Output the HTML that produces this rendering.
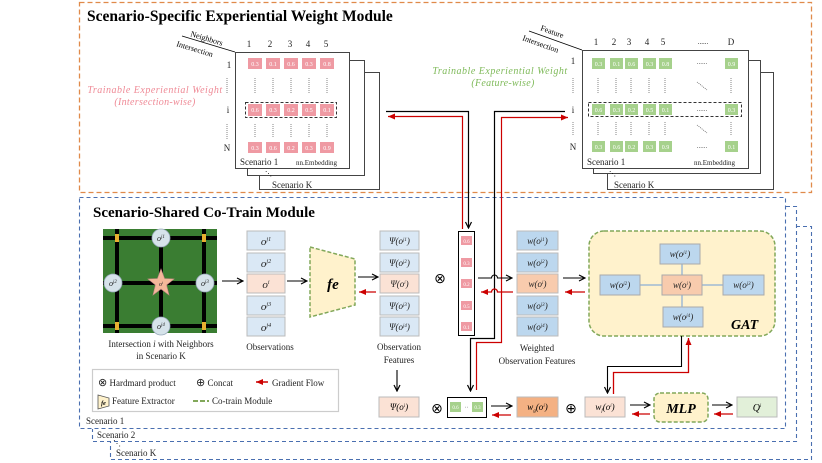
<!DOCTYPE html>
<html><head><meta charset="utf-8"><style>
html,body{margin:0;padding:0;background:#fff}
svg{display:block;font-family:"Liberation Serif",serif}
.c{font-size:6px;fill:#fff;text-anchor:middle}
.l{font-size:9px;fill:#222}
</style></head><body>
<svg width="822" height="463" viewBox="0 0 822 463" xmlns="http://www.w3.org/2000/svg">
<defs>
<marker id="ab" markerWidth="8" markerHeight="8" refX="7" refY="4" orient="auto" markerUnits="userSpaceOnUse"><path d="M1,1 L7,4 L1,7" fill="none" stroke="#000" stroke-width="1.2"/></marker>
<marker id="ar" markerWidth="8" markerHeight="8" refX="7" refY="4" orient="auto" markerUnits="userSpaceOnUse"><path d="M0,1 L7,4 L0,7z" fill="#c00"/></marker>
</defs>

<rect x="79.5" y="2.5" width="732" height="190" fill="none" stroke="#e08a4a" stroke-width="1.3" stroke-dasharray="5,3"/>
<text x="87" y="21" font-size="15.5" font-weight="bold" fill="#000">Scenario-Specific Experiential Weight Module</text>

<rect x="79.5" y="197.5" width="706" height="231" fill="none" stroke="#4a6fb0" stroke-width="1.1" stroke-dasharray="4,3"/>
<path d="M786,206.5 H796.5 V441.5 H92.5 V429" fill="none" stroke="#4a6fb0" stroke-width="1.1" stroke-dasharray="4,3"/>
<path d="M796,226.5 H811.5 V459.5 H110.5 V442" fill="none" stroke="#4a6fb0" stroke-width="1.1" stroke-dasharray="4,3"/>
<text x="86" y="424" font-size="9" fill="#222">Scenario 1</text>
<text x="97" y="438" font-size="9" fill="#222">Scenario 2</text>
<text x="116" y="456" font-size="9" fill="#222">Scenario K</text>
<text x="113" y="446" font-size="8" fill="#222">⋱</text>
<text x="93" y="217" font-size="15" font-weight="bold" fill="#000">Scenario-Shared Co-Train Module</text>

<!-- LEFT MATRIX -->
<rect x="259.5" y="72.5" width="120" height="117" fill="#fff" stroke="#444"/>
<rect x="247.5" y="60.5" width="117" height="115" fill="#fff" stroke="#444"/>
<rect x="235.5" y="52.5" width="114" height="116" fill="#fff" stroke="#444"/>
<text x="272" y="188" class="l">Scenario K</text>
<text x="265" y="176" font-size="7">⋱</text>
<text x="240" y="165" class="l">Scenario 1</text>
<text x="296" y="165" font-size="7" fill="#222">nn.Embedding</text>
<line x1="182" y1="36" x2="235" y2="52" stroke="#000" stroke-width="0.8"/>
<text x="190" y="36" font-size="8" transform="rotate(17 190 36)">Neighbors</text>
<text x="176" y="46" font-size="8" transform="rotate(17 176 46)">Intersection</text>
<g font-size="9" fill="#222" text-anchor="middle">
<text x="249" y="47">1</text><text x="270" y="47">2</text><text x="290" y="47">3</text><text x="308" y="47">4</text><text x="326" y="47">5</text>
<text x="229" y="68">1</text><text x="228" y="113">i</text><text x="227" y="151">N</text>
</g>
<g fill="#ef9aa3">
<rect x="248" y="58" width="14" height="11"/><rect x="266" y="58" width="14" height="11"/><rect x="284" y="58" width="14" height="11"/><rect x="302" y="58" width="14" height="11"/><rect x="320" y="58" width="14" height="11"/>
<rect x="248" y="104" width="14" height="12"/><rect x="266" y="104" width="14" height="12"/><rect x="284" y="104" width="14" height="12"/><rect x="302" y="104" width="14" height="12"/><rect x="320" y="104" width="14" height="12"/>
<rect x="248" y="142" width="14" height="11"/><rect x="266" y="142" width="14" height="11"/><rect x="284" y="142" width="14" height="11"/><rect x="302" y="142" width="14" height="11"/><rect x="320" y="142" width="14" height="11"/>
</g>
<g>
<text x="255" y="66" class="c">0.3</text><text x="273" y="66" class="c">0.1</text><text x="291" y="66" class="c">0.6</text><text x="309" y="66" class="c">0.3</text><text x="327" y="66" class="c">0.8</text>
<text x="255" y="112" class="c">0.6</text><text x="273" y="112" class="c">0.3</text><text x="291" y="112" class="c">0.2</text><text x="309" y="112" class="c">0.5</text><text x="327" y="112" class="c">0.1</text>
<text x="255" y="150" class="c">0.3</text><text x="273" y="150" class="c">0.6</text><text x="291" y="150" class="c">0.2</text><text x="309" y="150" class="c">0.3</text><text x="327" y="150" class="c">0.9</text>
</g>
<rect x="245.5" y="102.5" width="91" height="15" fill="none" stroke="#333" stroke-dasharray="3,2"/>
<g stroke="#666" stroke-width="0.8" stroke-dasharray="1,1">
<path d="M227,78V94M255,78V94M273,78V94M291,78V94M309,78V94M327,78V94M227,124V140M255,124V138M273,124V138M291,124V138M309,124V138M327,124V138"/>
</g>
<text x="155" y="93" font-size="10" letter-spacing="0.5" font-style="italic" fill="#ef8a96" text-anchor="middle">Trainable Experiential Weight</text>
<text x="155" y="105" font-size="10" letter-spacing="0.3" font-style="italic" fill="#ef8a96" text-anchor="middle">(Intersection-wise)</text>

<!-- RIGHT MATRIX -->
<rect x="607.5" y="72.5" width="166" height="117" fill="#fff" stroke="#444"/>
<rect x="593.5" y="60.5" width="167" height="113" fill="#fff" stroke="#444"/>
<rect x="582.5" y="50.5" width="166" height="118" fill="#fff" stroke="#444"/>
<text x="614" y="188" class="l">Scenario K</text>
<text x="609" y="176" font-size="7">⋱</text>
<text x="587" y="165" class="l">Scenario 1</text>
<text x="694" y="165" font-size="7" fill="#222">nn.Embedding</text>
<line x1="529" y1="31" x2="582" y2="50" stroke="#000" stroke-width="0.8"/>
<text x="540" y="30" font-size="8" transform="rotate(20 540 30)">Feature</text>
<text x="522" y="40" font-size="8" transform="rotate(20 522 40)">Intersection</text>
<g font-size="9" fill="#222" text-anchor="middle">
<text x="596" y="45">1</text><text x="614" y="45">2</text><text x="629" y="45">3</text><text x="647" y="45">4</text><text x="663" y="45">5</text><text x="703" y="44" font-size="7">......</text><text x="731" y="45">D</text>
<text x="573" y="64">1</text><text x="573" y="113">i</text><text x="573" y="150">N</text>
</g>
<g fill="#a6d18c">
<rect x="592" y="58" width="13" height="11"/><rect x="610" y="58" width="13" height="11"/><rect x="625" y="58" width="13" height="11"/><rect x="643" y="58" width="13" height="11"/><rect x="659" y="58" width="13" height="11"/><rect x="725" y="58" width="13" height="11"/>
<rect x="592" y="104" width="13" height="11"/><rect x="610" y="104" width="13" height="11"/><rect x="625" y="104" width="13" height="11"/><rect x="643" y="104" width="13" height="11"/><rect x="659" y="104" width="13" height="11"/><rect x="725" y="104" width="13" height="11"/>
<rect x="592" y="141" width="13" height="11"/><rect x="610" y="141" width="13" height="11"/><rect x="625" y="141" width="13" height="11"/><rect x="643" y="141" width="13" height="11"/><rect x="659" y="141" width="13" height="11"/><rect x="725" y="141" width="13" height="11"/>
</g>
<g>
<text x="598.5" y="66" class="c">0.3</text><text x="616.5" y="66" class="c">0.1</text><text x="631.5" y="66" class="c">0.6</text><text x="649.5" y="66" class="c">0.3</text><text x="665.5" y="66" class="c">0.8</text><text x="731.5" y="66" class="c">0.9</text>
<text x="598.5" y="112" class="c">0.6</text><text x="616.5" y="112" class="c">0.3</text><text x="631.5" y="112" class="c">0.2</text><text x="649.5" y="112" class="c">0.5</text><text x="665.5" y="112" class="c">0.1</text><text x="731.5" y="112" class="c">0.3</text>
<text x="598.5" y="149" class="c">0.3</text><text x="616.5" y="149" class="c">0.6</text><text x="631.5" y="149" class="c">0.2</text><text x="649.5" y="149" class="c">0.3</text><text x="665.5" y="149" class="c">0.9</text><text x="731.5" y="149" class="c">0.1</text>
</g>
<g font-size="7" fill="#555" text-anchor="middle"><text x="702" y="64">......</text><text x="702" y="111">......</text><text x="702" y="148">......</text></g>
<rect x="588.5" y="102.5" width="153" height="14" fill="none" stroke="#333" stroke-dasharray="3,2"/>
<g stroke="#666" stroke-width="0.8" stroke-dasharray="1,1">
<path d="M573,78V94M598,78V94M616,78V94M631,78V94M649,78V94M665,78V94M731,78V94M573,122V136M598,122V136M616,122V136M631,122V136M649,122V136M665,122V136M731,122V136M697,82L707,90M697,125L707,133"/>
</g>
<text x="500" y="74" font-size="10" letter-spacing="0.5" font-style="italic" fill="#7fba5a" text-anchor="middle">Trainable Experiential  Weight</text>
<text x="503" y="86" font-size="10" letter-spacing="0.3" font-style="italic" fill="#7fba5a" text-anchor="middle">(Feature-wise)</text>

<!-- connectors between modules -->
<path d="M386,111.5 H468.5 V228" fill="none" stroke="#000" stroke-width="1.2" marker-end="url(#ab)"/>
<path d="M462.5,229 V116.5 H388" fill="none" stroke="#c00" stroke-width="1.2" marker-end="url(#ar)"/>
<path d="M565,111.5 H494.5 V338.5 H470.5 V391" fill="none" stroke="#000" stroke-width="1.2" marker-end="url(#ab)"/>
<path d="M476.5,390 V342.5 H501.5 V117.5 H568" fill="none" stroke="#c00" stroke-width="1.2" marker-end="url(#ar)"/>

<!-- grid -->
<rect x="103" y="229" width="114" height="104" fill="#3a7d32"/>
<g stroke="#000" stroke-width="4">
<line x1="103" y1="238" x2="217" y2="238"/><line x1="103" y1="283" x2="217" y2="283"/><line x1="103" y1="326" x2="217" y2="326"/>
<line x1="117" y1="229" x2="117" y2="333"/><line x1="161" y1="229" x2="161" y2="333"/><line x1="204" y1="229" x2="204" y2="333"/>
</g>
<g fill="#e8b030"><rect x="115" y="234" width="4" height="8"/><rect x="202" y="234" width="4" height="8"/><rect x="115" y="322" width="4" height="8"/><rect x="202" y="322" width="4" height="8"/></g>
<g fill="#d6e3ea" stroke="#9ab" stroke-width="0.8">
<circle cx="161" cy="238" r="9"/><circle cx="113" cy="283" r="9"/><circle cx="205" cy="283" r="9"/><circle cx="161" cy="326" r="9"/>
</g>
<path d="M161,269 L164.5,278.5 L174,279 L166.5,285 L169,295 L161,289 L153,295 L155.5,285 L148,279 L157.5,278.5z" fill="#f4b89a" stroke="#c88" stroke-width="0.6"/>
<g font-size="8" font-style="italic" text-anchor="middle" fill="#222">
<text x="161" y="241">o<tspan font-size="5" dy="-3">j1</tspan></text><text x="113" y="286">o<tspan font-size="5" dy="-3">j2</tspan></text><text x="205" y="286">o<tspan font-size="5" dy="-3">j3</tspan></text><text x="161" y="329">o<tspan font-size="5" dy="-3">j4</tspan></text><text x="161" y="286" font-size="6">o<tspan font-size="4" dy="-2">i</tspan></text>
</g>
<text x="161" y="347" class="l" text-anchor="middle">Intersection <tspan font-style="italic">i</tspan> with Neighbors</text>
<text x="161" y="359" class="l" text-anchor="middle">in Scenario K</text>
<line x1="222" y1="281" x2="243" y2="281" stroke="#000" stroke-width="1.1" marker-end="url(#ab)"/>

<!-- observations -->
<g stroke="#bbb" stroke-width="1">
<rect x="247" y="231" width="38" height="19" fill="#dae8f5"/><rect x="247" y="253" width="38" height="19" fill="#dae8f5"/><rect x="247" y="274" width="38" height="19" fill="#fbe2d5"/><rect x="247" y="296" width="38" height="19" fill="#dae8f5"/><rect x="247" y="317" width="38" height="19" fill="#dae8f5"/>
</g>
<g font-size="11" font-style="italic" text-anchor="middle" fill="#222">
<text x="266" y="245">o<tspan font-size="6" dy="-4">j1</tspan></text><text x="266" y="267">o<tspan font-size="6" dy="-4">j2</tspan></text><text x="266" y="288">o<tspan font-size="6" dy="-4">i</tspan></text><text x="266" y="310">o<tspan font-size="6" dy="-4">j3</tspan></text><text x="266" y="331">o<tspan font-size="6" dy="-4">j4</tspan></text>
</g>
<text x="270" y="350" class="l" text-anchor="middle">Observations</text>
<line x1="287" y1="281" x2="307" y2="281" stroke="#000" stroke-width="1.1" marker-end="url(#ab)"/>
<path d="M310,247 L355,259 L355,305 L310,317z" fill="#fff2cc" stroke="#82a85a" stroke-width="1.5" stroke-dasharray="4,2"/>
<text x="333" y="289" font-size="15" font-weight="bold" font-style="italic" text-anchor="middle">fe</text>
<line x1="358" y1="277" x2="378" y2="277" stroke="#000" stroke-width="1.1" marker-end="url(#ab)"/>
<line x1="376" y1="292" x2="359" y2="292" stroke="#c00" stroke-width="1.3" marker-end="url(#ar)"/>

<!-- observation features -->
<g stroke="#bbb">
<rect x="380" y="231" width="39" height="19" fill="#dae8f5"/><rect x="380" y="253" width="39" height="19" fill="#dae8f5"/><rect x="380" y="274" width="39" height="19" fill="#fbe2d5"/><rect x="380" y="296" width="39" height="19" fill="#dae8f5"/><rect x="380" y="317" width="39" height="19" fill="#dae8f5"/>
</g>
<g font-size="9" font-style="italic" text-anchor="middle" fill="#222">
<text x="399.5" y="244">Ψ(o<tspan font-size="5" dy="-3">j1</tspan><tspan dy="3">)</tspan></text><text x="399.5" y="266">Ψ(o<tspan font-size="5" dy="-3">j2</tspan><tspan dy="3">)</tspan></text><text x="399.5" y="287">Ψ(o<tspan font-size="5" dy="-3">i</tspan><tspan dy="3">)</tspan></text><text x="399.5" y="309">Ψ(o<tspan font-size="5" dy="-3">j3</tspan><tspan dy="3">)</tspan></text><text x="399.5" y="330">Ψ(o<tspan font-size="5" dy="-3">j4</tspan><tspan dy="3">)</tspan></text>
</g>
<text x="399" y="350" class="l" text-anchor="middle">Observation</text>
<text x="399" y="363" class="l" text-anchor="middle">Features</text>
<text x="440" y="283" font-size="14" text-anchor="middle">⊗</text>
<rect x="458.5" y="231.5" width="16" height="104" fill="#fff" stroke="#000" stroke-width="1"/>
<g fill="#ef9aa3"><rect x="461" y="236" width="11" height="9"/><rect x="461" y="258" width="11" height="9"/><rect x="461" y="279" width="11" height="9"/><rect x="461" y="301" width="11" height="9"/><rect x="461" y="322" width="11" height="9"/></g>
<g font-size="5" fill="#fff" text-anchor="middle"><text x="466.5" y="243">0.6</text><text x="466.5" y="265">0.3</text><text x="466.5" y="286">0.2</text><text x="466.5" y="308">0.5</text><text x="466.5" y="329">0.1</text></g>
<path d="M478,278 H491.5 a3,3 0 0 1 6,0 H512" fill="none" stroke="#000" stroke-width="1.1" marker-end="url(#ab)"/>
<path d="M513,292 H497.5 a3,3 0 0 0 -6,0 H481" fill="none" stroke="#c00" stroke-width="1.3" marker-end="url(#ar)"/>
<!-- weighted -->
<g stroke="#bbb">
<rect x="517" y="231" width="41" height="19" fill="#bcd7ee"/><rect x="517" y="253" width="41" height="19" fill="#bcd7ee"/><rect x="517" y="274" width="41" height="19" fill="#f8cbad"/><rect x="517" y="296" width="41" height="19" fill="#bcd7ee"/><rect x="517" y="317" width="41" height="19" fill="#bcd7ee"/>
</g>
<g font-size="9" font-style="italic" text-anchor="middle" fill="#222">
<text x="537.5" y="244">w(o<tspan font-size="5" dy="-3">j1</tspan><tspan dy="3">)</tspan></text><text x="537.5" y="266">w(o<tspan font-size="5" dy="-3">j2</tspan><tspan dy="3">)</tspan></text><text x="537.5" y="287">w(o<tspan font-size="5" dy="-3">i</tspan><tspan dy="3">)</tspan></text><text x="537.5" y="309">w(o<tspan font-size="5" dy="-3">j3</tspan><tspan dy="3">)</tspan></text><text x="537.5" y="330">w(o<tspan font-size="5" dy="-3">j4</tspan><tspan dy="3">)</tspan></text>
</g>
<text x="537" y="351" class="l" text-anchor="middle">Weighted</text>
<text x="537" y="364" class="l" text-anchor="middle">Observation Features</text>
<line x1="563" y1="278" x2="585" y2="278" stroke="#000" stroke-width="1.1" marker-end="url(#ab)"/>
<line x1="585" y1="292" x2="565" y2="292" stroke="#c00" stroke-width="1.3" marker-end="url(#ar)"/>

<!-- GAT -->
<rect x="589" y="231" width="186" height="105" rx="15" fill="#fff2cc" stroke="#82a85a" stroke-width="1.5" stroke-dasharray="4,2"/>
<g stroke="#6f9fd8" stroke-width="1"><line x1="640" y1="285" x2="662" y2="285"/><line x1="702" y1="285" x2="723" y2="285"/><line x1="682" y1="264" x2="682" y2="275"/><line x1="682" y1="295" x2="682" y2="307"/></g>
<g stroke="#aaa">
<rect x="660" y="244" width="40" height="20" fill="#bcd7ee"/><rect x="600" y="275" width="40" height="20" fill="#bcd7ee"/><rect x="662" y="275" width="40" height="20" fill="#f8cbad"/><rect x="723" y="275" width="41" height="20" fill="#bcd7ee"/><rect x="663" y="307" width="40" height="20" fill="#bcd7ee"/>
</g>
<g font-size="9" font-style="italic" text-anchor="middle" fill="#222">
<text x="680" y="257">w(o<tspan font-size="5" dy="-3">j1</tspan><tspan dy="3">)</tspan></text><text x="620" y="288">w(o<tspan font-size="5" dy="-3">j2</tspan><tspan dy="3">)</tspan></text><text x="682" y="288">w(o<tspan font-size="5" dy="-3">i</tspan><tspan dy="3">)</tspan></text><text x="743.5" y="288">w(o<tspan font-size="5" dy="-3">j3</tspan><tspan dy="3">)</tspan></text><text x="683" y="320">w(o<tspan font-size="5" dy="-3">j4</tspan><tspan dy="3">)</tspan></text>
</g>
<text x="731" y="329" font-size="14" font-weight="bold" font-style="italic">GAT</text>
<path d="M681.5,336 V366.5 H607.5 V393" fill="none" stroke="#000" stroke-width="1.1" marker-end="url(#ab)"/>
<path d="M613.5,394 V372.5 H688.5 V338" fill="none" stroke="#c00" stroke-width="1.3" marker-end="url(#ar)"/>

<!-- bottom row -->
<line x1="397" y1="370" x2="397" y2="391" stroke="#000" stroke-width="1.1" marker-end="url(#ab)"/>
<rect x="379" y="397" width="40" height="20" fill="#fbe2d5" stroke="#bbb"/>
<text x="399" y="410" font-size="9" font-style="italic" text-anchor="middle">Ψ(o<tspan font-size="5" dy="-3">i</tspan><tspan dy="3">)</tspan></text>
<text x="437" y="413" font-size="14" text-anchor="middle">⊗</text>
<rect x="447.5" y="397.5" width="39" height="20" fill="#fff" stroke="#000"/>
<rect x="450" y="402" width="11" height="10" fill="#a6d18c"/><rect x="472" y="402" width="11" height="10" fill="#a6d18c"/>
<g font-size="5" fill="#fff" text-anchor="middle"><text x="455.5" y="409">0.6</text><text x="477.5" y="409">0.3</text></g>
<text x="466.5" y="409" font-size="6" text-anchor="middle" fill="#555">··</text>
<line x1="491" y1="406" x2="512" y2="406" stroke="#000" stroke-width="1.1" marker-end="url(#ab)"/>
<line x1="511" y1="415" x2="492" y2="415" stroke="#c00" stroke-width="1.3" marker-end="url(#ar)"/>
<rect x="517" y="397" width="41" height="20" fill="#f4b183" stroke="#bbb"/>
<text x="537.5" y="410" font-size="9" font-style="italic" text-anchor="middle">w<tspan font-size="5" dy="2">g</tspan><tspan dy="-2">(o</tspan><tspan font-size="5" dy="-3">i</tspan><tspan dy="3">)</tspan></text>
<text x="571" y="413" font-size="14" text-anchor="middle">⊕</text>
<rect x="585" y="397" width="40" height="20" fill="#fbe2d5" stroke="#bbb"/>
<text x="605" y="410" font-size="9" font-style="italic" text-anchor="middle">w<tspan font-size="5" dy="2">f</tspan><tspan dy="-2">(o</tspan><tspan font-size="5" dy="-3">i</tspan><tspan dy="3">)</tspan></text>
<line x1="630" y1="405" x2="650" y2="405" stroke="#000" stroke-width="1.1" marker-end="url(#ab)"/>
<line x1="650" y1="414" x2="632" y2="414" stroke="#c00" stroke-width="1.3" marker-end="url(#ar)"/>
<rect x="654" y="393" width="54" height="29" rx="6" fill="#fff2cc" stroke="#82a85a" stroke-width="1.5" stroke-dasharray="4,2"/>
<text x="681" y="413" font-size="14" font-weight="bold" font-style="italic" text-anchor="middle">MLP</text>
<line x1="712" y1="405" x2="732" y2="405" stroke="#000" stroke-width="1.1" marker-end="url(#ab)"/>
<line x1="733" y1="414" x2="714" y2="414" stroke="#c00" stroke-width="1.3" marker-end="url(#ar)"/>
<rect x="737" y="397" width="40" height="20" fill="#e2f0d9" stroke="#bbb"/>
<text x="757" y="411" font-size="10" font-style="italic" text-anchor="middle">Q<tspan font-size="5" dy="-4">i</tspan></text>

<!-- legend -->
<rect x="92.5" y="369.5" width="246" height="42" fill="#fff" stroke="#ccc" stroke-width="1.2"/>
<g font-size="9" fill="#222">
<text x="98" y="386"><tspan font-size="11">⊗</tspan> Hardmard product</text>
<text x="196" y="386"><tspan font-size="11">⊕</tspan> Concat</text>
<text x="272" y="386">Gradient Flow</text>
<text x="112" y="404">Feature Extractor</text>
<text x="212" y="404">Co-train Module</text>
</g>
<line x1="268" y1="382" x2="256" y2="382" stroke="#c00" stroke-width="1.5" marker-end="url(#ar)"/>
<path d="M98,395 L109,398 L109,406 L98,409z" fill="#fff2cc" stroke="#555" stroke-width="0.8"/>
<text x="103.5" y="405" font-size="6" font-style="italic" font-weight="bold" text-anchor="middle">fe</text>
<line x1="193" y1="401" x2="209" y2="401" stroke="#82a85a" stroke-width="2" stroke-dasharray="5,2"/>
</svg>
</body></html>
